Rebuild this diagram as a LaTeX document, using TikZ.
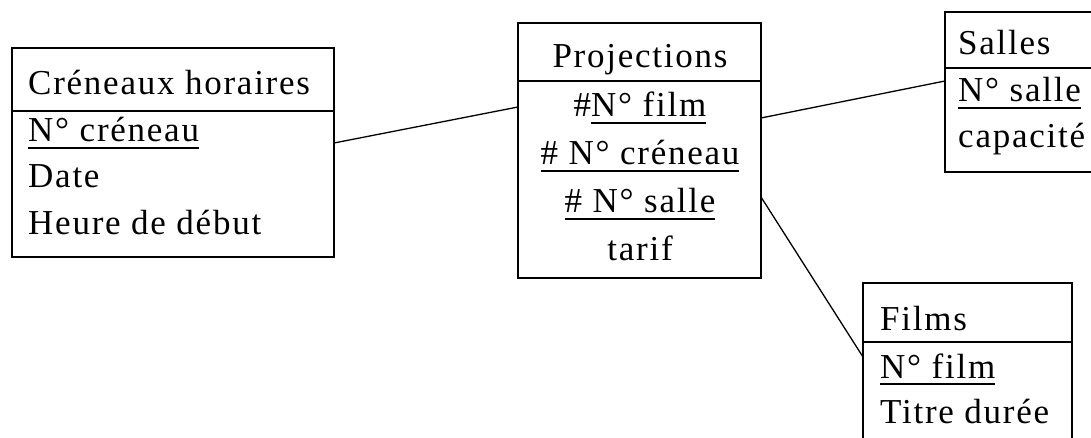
\documentclass[tikz,border=0pt]{standalone}
\usepackage{fontspec}
\setmainfont{Liberation Serif}[LetterSpace=5]
\usepackage{tikz}
\usetikzlibrary{positioning,calc}

% underline a key attribute
\newcommand{\keyline}[1]{\setbox0\hbox{#1}\rlap{\rule[-7pt]{\wd0}{2pt}}\box0}

\tikzset{
  tbl/.style={draw, line width=1.8pt, outer sep=0pt, inner sep=0pt, anchor=north west},
  sep/.style={line width=1.8pt},
  txt/.style={inner sep=0pt, font=\fontsize{35}{40}\selectfont},
  link/.style={line width=1.3pt}
}

\begin{document}
\begin{tikzpicture}[x=1pt, y=-1pt]
  \useasboundingbox (0,0) rectangle (1091,438);
  \clip (0,0) rectangle (1091,438);

  % Creneaux horaires (left)
  \node[tbl, minimum width=322pt, minimum height=209pt] (cren) at (12,48) {};
  \draw[sep] ([yshift=-63pt]cren.north west) -- ([yshift=-63pt]cren.north east);
  \node[txt, anchor=base west] (crenT) at (28,95) {Créneaux horaires};
  \node[txt, anchor=base west] (crenA) at (28,142) {\keyline{N° créneau}};
  \node[txt, anchor=base west] (crenB) at (28,188) {Date};
  \node[txt, anchor=base west] (crenC) at (28,235) {Heure de début};

  % Projections (middle)
  \node[tbl, minimum width=243pt, minimum height=255pt] (proj) at (518,23) {};
  \draw[sep] ([yshift=-58pt]proj.north west) -- ([yshift=-58pt]proj.north east);
  \node[txt, anchor=base] (projT) at (640,68) {Projections};
  \node[txt, anchor=base] (projA) at (640,117) {\#\keyline{N° film}};
  \node[txt, anchor=base] (projB) at (640,165) {\keyline{\# N° créneau}};
  \node[txt, anchor=base] (projC) at (640,213) {\keyline{\# N° salle}};
  \node[txt, anchor=base] (projD) at (640,260) {tarif};

  % Salles (top right)
  \node[tbl, minimum width=160pt, minimum height=160pt] (salles) at (945,12) {};
  \draw[sep] ([yshift=-56pt]salles.north west) -- ([yshift=-56pt]salles.north east);
  \node[txt, anchor=base west] (sallesT) at (958,55) {Salles};
  \node[txt, anchor=base west] (sallesA) at (958,102) {\keyline{N° salle}};
  \node[txt, anchor=base west] (sallesB) at (958,148) {capacité};

  % Films (bottom right)
  \node[tbl, minimum width=209pt, minimum height=170pt] (films) at (863,283) {};
  \draw[sep] ([yshift=-59pt]films.north west) -- ([yshift=-59pt]films.north east);
  \node[txt, anchor=base west] (filmsT) at (880,330) {Films};
  \node[txt, anchor=base west] (filmsA) at (880,378) {\keyline{N° film}};
  \node[txt, anchor=base west] (filmsB) at (880,423) {Titre durée};

  % Links
  \draw[link] ([yshift=-95pt]cren.north east) -- ([yshift=-84pt]proj.north west);
  \draw[link] ([yshift=-95pt]proj.north east) -- ([yshift=-69pt]salles.north west);
  \draw[link] ([yshift=-174pt]proj.north east) -- ([yshift=-74pt]films.north west);
\end{tikzpicture}
\end{document}
